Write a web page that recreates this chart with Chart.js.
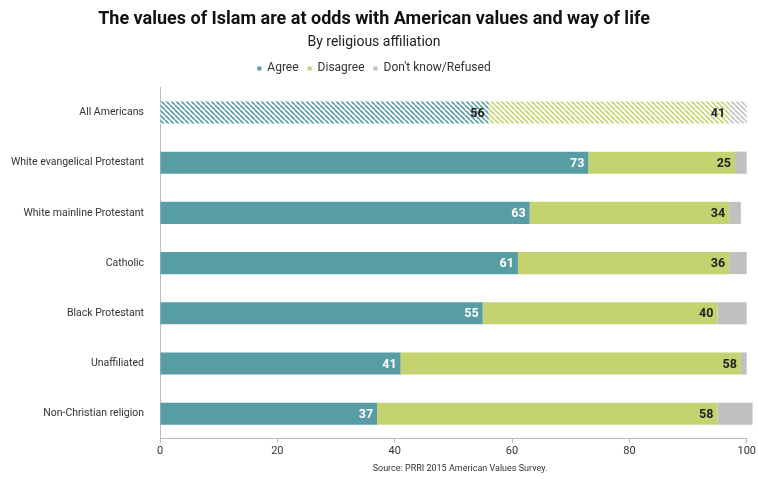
<!DOCTYPE html>
<html>
<head>
<meta charset="utf-8">
<script src="https://cdn.jsdelivr.net/npm/chart.js@4.4.0/dist/chart.umd.min.js"></script>
<style>
  html, body { margin: 0; padding: 0; background: #fff; }
  #wrap { width: 758px; height: 479px; }
</style>
</head>
<body>
<div id="wrap"><canvas id="grafica"></canvas></div>
<script>
const categorias = ['All Americans', 'White evangelical Protestant', 'White mainline Protestant', 'Catholic', 'Black Protestant', 'Unaffiliated', 'Non-Christian religion'];
const acuerdo = [56, 73, 63, 61, 55, 41, 37];
const desacuerdo = [41, 25, 34, 36, 40, 58, 58];
const noSabe = [3, 2, 2, 3, 5, 1, 6];
const ticksX = [0, 20, 40, 60, 80, 100];

const colAgree = 'rgb(88,156,164)';
const colDisagree = 'rgb(196,211,112)';
const colDk = 'rgb(192,192,192)';
const coloresLeyenda = [colAgree, colDisagree, colDk];

// PATRON RAYADO PARA LA FILA "ALL AMERICANS"
const rayado = (color) => {
  const c = document.createElement('canvas');
  c.width = 5; c.height = 5;
  const ctx = c.getContext('2d');
  ctx.fillStyle = '#fff';
  ctx.fillRect(0, 0, 5, 5);
  ctx.strokeStyle = color;
  ctx.lineWidth = 1.6;
  [-5, 0, 5].forEach((x0) => {
    ctx.beginPath();
    ctx.moveTo(x0, 0);
    ctx.lineTo(x0 + 5, 5);
    ctx.stroke();
  });
  return ctx.createPattern(c, 'repeat');
};

const colores = (color) => categorias.map((c, i) => (i === 0 ? rayado(color) : color));

// ETIQUETAS DE VALOR AL FINAL DE CADA SEGMENTO
const etiquetas = {
  id: 'etiquetas',
  afterDatasetsDraw(chart) {
    const ctx = chart.ctx;
    ctx.save();
    ctx.font = "bold 12.5px 'Roboto', sans-serif";
    ctx.textAlign = 'right';
    ctx.textBaseline = 'middle';
    [0, 1].forEach((d) => {
      chart.getDatasetMeta(d).data.forEach((bar, i) => {
        const valor = chart.data.datasets[d].data[i];
        ctx.fillStyle = (d === 0 && i !== 0) ? '#fff' : '#222';
        ctx.fillText(valor, bar.x - 4, bar.y + 1);
      });
    });
    ctx.restore();
  }
};

const fuente = {
  id: 'fuente',
  afterDraw(chart) {
    const ctx = chart.ctx;
    ctx.save();
    ctx.font = "9px 'Roboto', sans-serif";
    ctx.fillStyle = '#333';
    ctx.textAlign = 'center';
    ctx.textBaseline = 'middle';
    ctx.fillText('Source: PRRI 2015 American Values Survey.', 460, 469);
    ctx.restore();
  }
};

// ESPACIO EXTRA BAJO LA LEYENDA
const margenLeyenda = {
  id: 'margenLeyenda',
  beforeInit(chart) {
    const fitOriginal = chart.legend.fit;
    chart.legend.fit = function () {
      fitOriginal.bind(chart.legend)();
      this.height += 3;
    };
  }
};

const config = {
  type: 'bar',
  data: {
    labels: categorias,
    datasets: [
      { label: 'Agree', data: acuerdo, backgroundColor: colores(colAgree), clip: false },
      { label: 'Disagree', data: desacuerdo, backgroundColor: colores(colDisagree), clip: false },
      { label: "Don't know/Refused", data: noSabe, backgroundColor: colores(colDk), clip: false }
    ]
  },
  options: {
    indexAxis: 'y',
    responsive: true,
    maintainAspectRatio: false,
    animation: false,
    datasets: { bar: { categoryPercentage: 0.88, barPercentage: 0.5, borderWidth: 0 } },
    layout: { padding: { left: 0, right: 10, top: 2, bottom: 19 } },
    plugins: {
      title: {
        display: true,
        text: 'The values of Islam are at odds with American values and way of life',
        font: { family: "'Roboto', sans-serif", size: 18, weight: 'bold' },
        color: '#111',
        padding: { top: 7, bottom: 2 }
      },
      subtitle: {
        display: true,
        text: 'By religious affiliation',
        font: { family: "'Roboto', sans-serif", size: 14 },
        color: '#222',
        padding: { top: 1, bottom: 3 }
      },
      legend: {
        display: true,
        labels: {
          usePointStyle: true,
          pointStyle: 'rect',
          boxWidth: 4,
          boxHeight: 4,
          color: '#333',
          font: { family: "'Roboto', sans-serif", size: 12 },
          padding: 9,
          generateLabels: (chart) => chart.data.datasets.map((ds, i) => ({
            text: ds.label,
            fillStyle: coloresLeyenda[i],
            strokeStyle: coloresLeyenda[i],
            lineWidth: 0,
            pointStyle: 'rect',
            fontColor: '#333',
            datasetIndex: i
          }))
        }
      },
      tooltip: { enabled: false }
    },
    scales: {
      x: {
        stacked: true,
        min: 0,
        max: 100,
        afterBuildTicks: (scale) => { scale.ticks = ticksX.map((v) => ({ value: v })); },
        grid: { display: true, drawOnChartArea: false, tickLength: 4, color: '#bbb' },
        border: { color: '#bbb' },
        ticks: { color: '#333', font: { family: "'Roboto', sans-serif", size: 11 }, padding: 2 }
      },
      y: {
        stacked: true,
        afterFit: (scale) => { scale.width = 160; },
        grid: { display: false },
        border: { color: '#bbb' },
        ticks: { color: '#333', font: { family: "'Roboto', sans-serif", size: 10.5 }, padding: 8 }
      }
    }
  },
  plugins: [etiquetas, fuente, margenLeyenda]
};

new Chart(document.getElementById('grafica'), config);
</script>
</body>
</html>
